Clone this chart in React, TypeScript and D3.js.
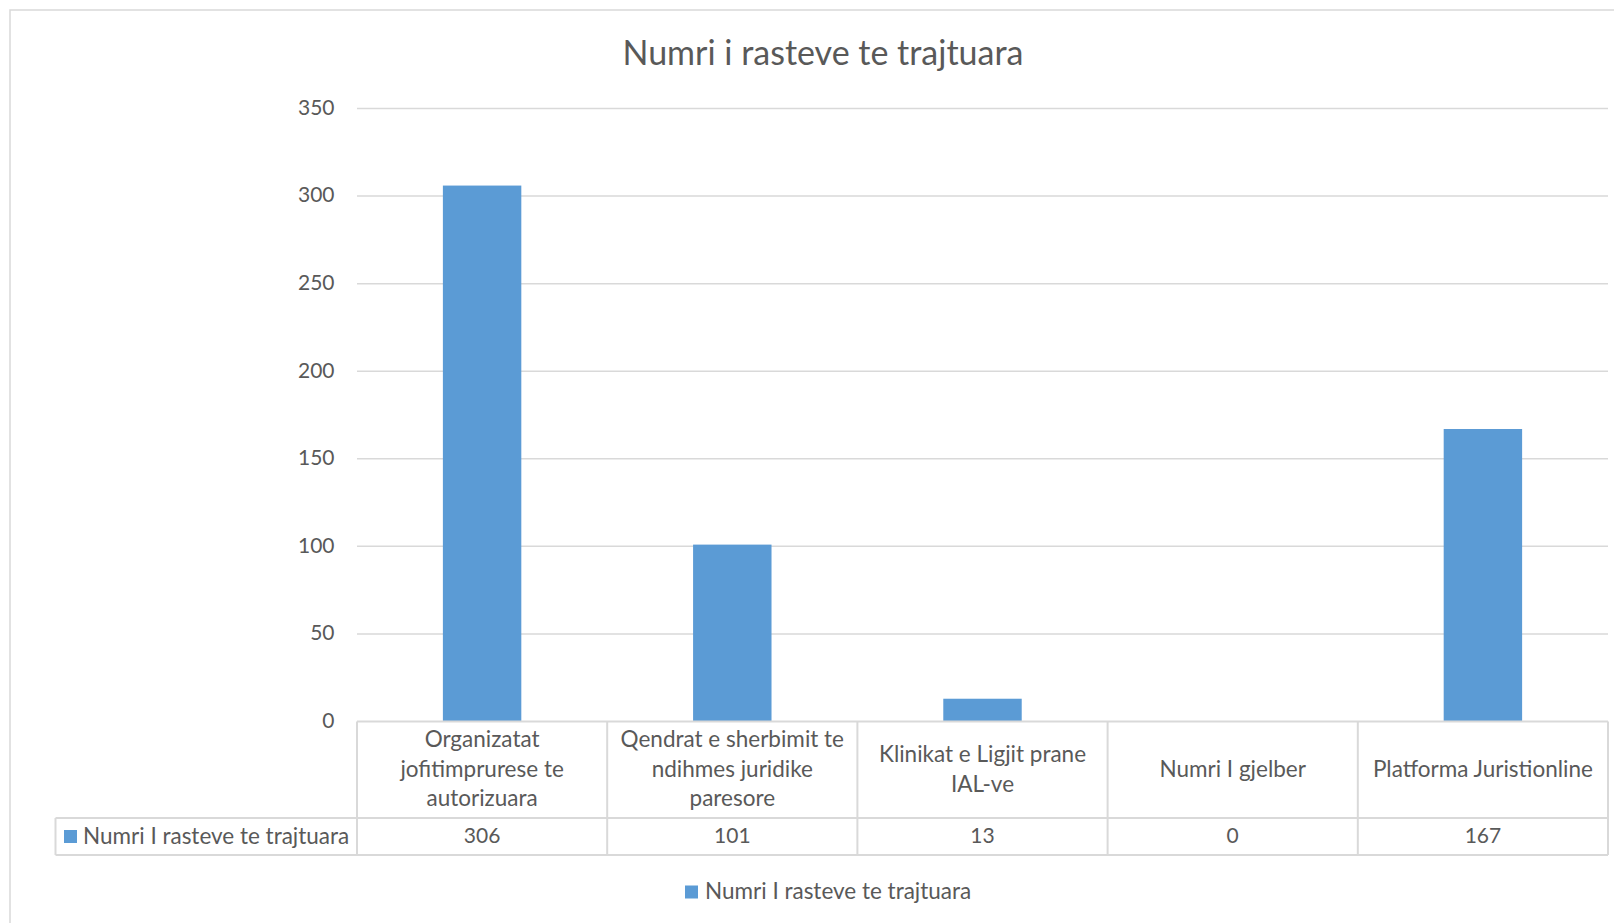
import {useEffect, useRef} from 'react'
import * as d3 from 'd3'

const categories = [
    'Organizatat jofitimprurese te autorizuara',
    'Qendrat e sherbimit te ndihmes juridike paresore',
    'Klinikat e Ligjit prane IAL-ve',
    'Numri I gjelber',
    'Platforma Juristionline',
]
const values = [306, 101, 13, 0, 167]
const seriesName = 'Numri I rasteve te trajtuara'
const title = 'Numri i rasteve te trajtuara'
const yTicks = [0, 50, 100, 150, 200, 250, 300, 350]

const FONT = 'Lato, "Open Sans", sans-serif'
const TEXT = '#595959'
const GRID = '#d9d9d9'
const BAR = '#5b9bd5'

function App() {
    const svg = useRef<SVGSVGElement>(null)

    useEffect(() => {
        const root = d3.select(svg.current)
        root.selectAll('*').remove()

        const x = d3.scaleBand<string>()
            .domain(categories)
            .range([357, 1608])
            .padding(0)
        const y = d3.scaleLinear()
            .domain([0, 350])
            .range([721.5, 108.5])

        const rowTop = y(0)
        const rowMid = 818
        const rowBottom = 855
        const keyLeft = 55.5

        // outer frame
        root.append('rect')
            .attr('x', 10).attr('y', 10)
            .attr('width', 1640).attr('height', 960)
            .attr('fill', 'none').attr('stroke', GRID).attr('stroke-width', 1.5)

        // title
        root.append('text')
            .attr('x', 823).attr('y', 56)
            .attr('text-anchor', 'middle').attr('dominant-baseline', 'middle')
            .attr('fill', TEXT)
            .style('font', `34px ${FONT}`)
            .text(title)

        // gridlines
        root.append('g').selectAll('line')
            .data(yTicks.filter(t => t > 0))
            .join('line')
                .attr('x1', 357).attr('x2', 1608)
                .attr('y1', d => y(d)).attr('y2', d => y(d))
                .attr('stroke', GRID).attr('stroke-width', 1.5)

        // y labels
        root.append('g').selectAll('text')
            .data(yTicks)
            .join('text')
                .attr('x', 334.5)
                .attr('y', d => y(d) + 1)
                .attr('text-anchor', 'end').attr('dominant-baseline', 'middle')
                .attr('fill', TEXT)
                .style('font', `21px ${FONT}`)
                .text(d => d)

        // bars
        const barW = x.bandwidth() / (1 + 2.19)
        root.append('g').selectAll('rect')
            .data(values)
            .join('rect')
                .attr('x', (d, i) => (x(categories[i]) as number) + (x.bandwidth() - barW) / 2)
                .attr('y', d => y(d))
                .attr('width', barW)
                .attr('height', d => y(0) - y(d))
                .attr('fill', BAR)

        // data table lines
        const tbl = root.append('g')
            .attr('stroke', GRID).attr('stroke-width', 2).attr('fill', 'none')
        tbl.append('line').attr('x1', 357).attr('x2', 1608).attr('y1', rowTop).attr('y2', rowTop)
        tbl.append('line').attr('x1', keyLeft).attr('x2', 1608).attr('y1', rowMid).attr('y2', rowMid)
        tbl.append('line').attr('x1', keyLeft).attr('x2', 1608).attr('y1', rowBottom).attr('y2', rowBottom)
        tbl.append('line').attr('x1', keyLeft).attr('x2', keyLeft).attr('y1', rowMid).attr('y2', rowBottom)
        const edges = categories.map(c => x(c) as number).concat([x.range()[1]])
        tbl.selectAll('line.v')
            .data(edges)
            .join('line')
                .attr('class', 'v')
                .attr('x1', d => d).attr('x2', d => d)
                .attr('y1', rowTop).attr('y2', rowBottom)

        // category labels, wrapped to the column width
        const labels = root.append('g')
        categories.forEach(cat => {
            const cx = (x(cat) as number) + x.bandwidth() / 2
            const t = labels.append('text')
                .attr('text-anchor', 'middle')
                .attr('fill', TEXT)
                .style('font', `22.5px ${FONT}`)
            const words = cat.split(' ')
            const lines: string[] = []
            let cur = ''
            words.forEach(w => {
                const test = cur ? cur + ' ' + w : w
                t.text(test)
                const len = (t.node() as SVGTextElement).getComputedTextLength()
                if (len > x.bandwidth() - 10 && cur) {
                    lines.push(cur)
                    cur = w
                } else {
                    cur = test
                }
            })
            lines.push(cur)
            t.text(null)
            const lh = 29.5
            const mid = (rowTop + rowMid) / 2 + 1.5
            lines.forEach((ln, i) => {
                t.append('tspan')
                    .attr('x', cx)
                    .attr('y', mid + (i - (lines.length - 1) / 2) * lh)
                    .attr('dominant-baseline', 'middle')
                    .text(ln)
            })
        })

        // values row
        const valY = (rowMid + rowBottom) / 2 + 1.5
        root.append('g').selectAll('text')
            .data(values)
            .join('text')
                .attr('x', (d, i) => (x(categories[i]) as number) + x.bandwidth() / 2)
                .attr('y', valY)
                .attr('text-anchor', 'middle').attr('dominant-baseline', 'middle')
                .attr('fill', TEXT)
                .style('font', `21px ${FONT}`)
                .text(d => d)

        // legend key in table
        root.append('rect')
            .attr('x', 64).attr('y', 830).attr('width', 13).attr('height', 13)
            .attr('fill', BAR)
        root.append('text')
            .attr('x', 83).attr('y', valY)
            .attr('dominant-baseline', 'middle')
            .attr('fill', TEXT)
            .style('font', `22.5px ${FONT}`)
            .text(seriesName)

        // bottom legend
        root.append('rect')
            .attr('x', 685).attr('y', 885.5).attr('width', 13).attr('height', 13)
            .attr('fill', BAR)
        root.append('text')
            .attr('x', 705).attr('y', 893.5)
            .attr('dominant-baseline', 'middle')
            .attr('fill', TEXT)
            .style('font', `22.5px ${FONT}`)
            .text(seriesName)
    }, [])

    return (
        <svg ref={svg} width={1614} height={923}
            style={{position: 'absolute', left: 0, top: 0, background: '#fff'}}></svg>
    )
}

export default App
